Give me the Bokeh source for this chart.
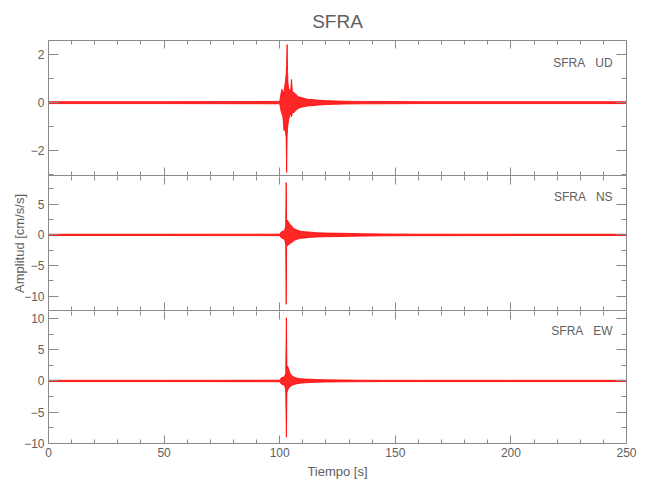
from bokeh.plotting import figure
from bokeh.models import Range1d, LinearAxis, FixedTicker, Label, CustomJSTickFormatter
from bokeh.layouts import column
from bokeh.embed import file_html
from bokeh.resources import INLINE

# ---------------- data ----------------
station = "SFRA"
components = ["UD", "NS", "EW"]

# envelope samples of each trace: time [s], upper and lower amplitude [cm/s/s]
t_ud = [0, 50, 100.0, 100.7, 101.0, 101.4, 101.9, 102.2, 102.5, 102.8, 103.0, 103.2,
        103.4, 103.6, 103.9, 104.3, 104.8, 105.1, 105.5, 106.2, 107.0, 108.0, 109.1,
        110.5, 112.0, 114.9, 117.0, 120.6, 124.0, 127.8, 135.0, 143.7, 160.0, 200.0, 250.0]
top_ud = [0.04, 0.04, 0.05, 0.45, 0.56, 0.35, 0.5, 0.7, 0.9, 1.2, 1.6, 2.43,
          1.3, 0.8, 0.6, 0.5, 0.55, 0.97, 0.45, 0.42, 0.35, 0.25, 0.22,
          0.18, 0.14, 0.12, 0.1, 0.08, 0.07, 0.06, 0.05, 0.05, 0.04, 0.04, 0.04]
bot_ud = [-0.04, -0.04, -0.05, -0.4, -0.48, -0.6, -1.18, -1.0, -1.2, -1.5, -2.92, -1.4,
          -1.1, -0.9, -0.7, -0.55, -0.45, -0.6, -0.4, -0.42, -0.32, -0.25, -0.2,
          -0.17, -0.14, -0.12, -0.1, -0.08, -0.07, -0.06, -0.05, -0.05, -0.04, -0.04, -0.04]

t_ns = [0, 50, 100.0, 100.7, 101.5, 102.2, 102.6, 102.8, 103.0, 103.3, 103.7, 104.2,
        104.8, 105.5, 106.2, 107.5, 109.0, 111.0, 113.4, 116.0, 120.0, 127.8, 135.0,
        145.0, 160.0, 200.0, 250.0]
top_ns = [0.1, 0.1, 0.12, 0.5, 0.6, 0.8, 1.5, 8.5, 2.0, 2.4, 2.2, 1.8,
          1.6, 1.3, 1.0, 0.8, 0.6, 0.5, 0.45, 0.35, 0.3, 0.25, 0.2,
          0.15, 0.12, 0.1, 0.1]
bot_ns = [-0.1, -0.1, -0.12, -0.5, -0.6, -0.9, -1.5, -11.3, -1.9, -1.8, -1.6, -1.5,
          -1.3, -1.2, -0.9, -0.7, -0.55, -0.5, -0.4, -0.35, -0.3, -0.25, -0.2,
          -0.15, -0.12, -0.1, -0.1]

t_ew = [0, 50, 100.0, 100.7, 101.5, 102.2, 102.6, 102.9, 103.1, 103.4, 103.8, 104.3,
        104.8, 105.5, 106.2, 107.5, 109.0, 111.0, 113.4, 116.0, 120.0, 127.8, 135.0,
        145.0, 160.0, 200.0, 250.0]
top_ew = [0.1, 0.1, 0.12, 0.5, 0.6, 0.8, 1.2, 10.1, 2.2, 2.4, 2.0, 1.4,
          1.0, 0.8, 0.6, 0.45, 0.35, 0.3, 0.28, 0.22, 0.18, 0.15, 0.12,
          0.1, 0.1, 0.1, 0.1]
bot_ew = [-0.1, -0.1, -0.12, -0.5, -0.6, -0.8, -1.5, -9.0, -1.9, -1.6, -1.2, -1.0,
          -0.8, -0.7, -0.55, -0.45, -0.35, -0.3, -0.25, -0.2, -0.17, -0.14, -0.12,
          -0.1, -0.1, -0.1, -0.1]

x_major = [0, 50, 100, 150, 200, 250]
x_minor = [10, 20, 30, 40, 60, 70, 80, 90, 110, 120, 130, 140, 160, 170, 180, 190,
           210, 220, 230, 240]
ud_major = [-2, 0, 2]
ud_minor = [-3, -1, 1]
ns_major = [-10, -5, 0, 5]
ns_minor = [-12.5, -7.5, -2.5, 2.5, 7.5]
ew_major = [-10, -5, 0, 5, 10]
ew_minor = [-7.5, -2.5, 2.5, 7.5]

x_label = "Tiempo [s]"
y_label = "Amplitud [cm/s/s]"

# ---------------- styling ----------------
FONT = "Liberation Sans"
GRAY = "#8a8a8a"
TXT = "#606060"
RED = "#ff0000"

x_range = Range1d(0, 250)

panels = [
    dict(comp="UD", t=t_ud, top=top_ud, bot=bot_ud, yr=(-3.05, 2.6), maj=ud_major, mnr=ud_minor,
         lab_y=1.65, h=176, bt=40, bb=1),
    dict(comp="NS", t=t_ns, top=top_ns, bot=bot_ns, yr=(-12.3, 9.5), maj=ns_major, mnr=ns_minor,
         lab_y=6.2, h=135, bt=0, bb=1),
    dict(comp="EW", t=t_ew, top=top_ew, bot=bot_ew, yr=(-10.0, 11.1), maj=ew_major, mnr=ew_minor,
         lab_y=8.0, h=188, bt=0, bb=56),
]


def style_axis(ax, labels, major_in, minor_in, line):
    ax.axis_line_color = GRAY if line else None
    ax.axis_line_width = 1
    ax.major_tick_line_color = GRAY
    ax.minor_tick_line_color = GRAY
    ax.major_tick_in = major_in
    ax.major_tick_out = 0
    ax.minor_tick_in = minor_in
    ax.minor_tick_out = 0
    if labels:
        ax.major_label_text_font = FONT
        ax.major_label_text_font_size = "12px"
        ax.major_label_text_color = TXT
        ax.major_label_standoff = 4
    else:
        ax.formatter = CustomJSTickFormatter(code="return ''")
        ax.major_label_text_font_size = "0px"
        ax.major_label_standoff = 0


figs = []
for i, pd_ in enumerate(panels):
    p = figure(width=650, height=pd_["h"], x_range=x_range,
               y_range=Range1d(*pd_["yr"]), output_backend="svg",
               toolbar_location=None, x_axis_location=None, y_axis_location=None,
               min_border_left=48, min_border_right=24,
               min_border_top=pd_["bt"], min_border_bottom=pd_["bb"])
    p.xgrid.visible = False
    p.ygrid.visible = False
    p.outline_line_color = None
    p.background_fill_color = "white"
    p.border_fill_color = "white"

    xt = FixedTicker(ticks=x_major, minor_ticks=x_minor)
    yt = FixedTicker(ticks=pd_["maj"], minor_ticks=pd_["mnr"])

    left = LinearAxis(ticker=yt)
    style_axis(left, True, 10, 5, True)
    if pd_["comp"] == "NS":
        left.axis_label = y_label
        left.axis_label_text_font = FONT
        left.axis_label_text_font_size = "13px"
        left.axis_label_text_font_style = "normal"
        left.axis_label_text_color = TXT
        left.axis_label_standoff = -6
    p.add_layout(left, "left")

    right = LinearAxis(ticker=yt)
    style_axis(right, False, 10, 5, True)
    p.add_layout(right, "right")

    above = LinearAxis(ticker=xt)
    style_axis(above, False, 8, 4, i == 0)
    p.add_layout(above, "above")

    below = LinearAxis(ticker=xt)
    last = i == len(panels) - 1
    style_axis(below, last, 8, 4, True)
    if last:
        below.axis_label = x_label
        below.axis_label_text_font = FONT
        below.axis_label_text_font_size = "13px"
        below.axis_label_text_font_style = "normal"
        below.axis_label_text_color = TXT
        below.axis_label_standoff = 4
    p.add_layout(below, "below")

    p.varea(x=pd_["t"], y1=pd_["bot"], y2=pd_["top"], fill_color=RED, fill_alpha=0.85)
    p.line(x=pd_["t"], y=pd_["top"], line_color=RED, line_width=0.8)
    p.line(x=pd_["t"], y=pd_["bot"], line_color=RED, line_width=0.8)

    p.add_layout(Label(x=244, y=pd_["lab_y"], text=station + "\u00a0\u00a0\u00a0" + pd_["comp"],
                       text_align="right", text_baseline="middle", text_font=FONT,
                       text_font_size="12px", text_color=TXT))

    if i == 0:
        p.title.text = station
        p.title.align = "center"
        p.title.text_font = FONT
        p.title.text_font_size = "19px"
        p.title.text_font_style = "normal"
        p.title.text_color = TXT
        p.title.standoff = 17
    figs.append(p)

layout = column(*figs, spacing=0)
open("out.html", "w").write(file_html(layout, INLINE))
